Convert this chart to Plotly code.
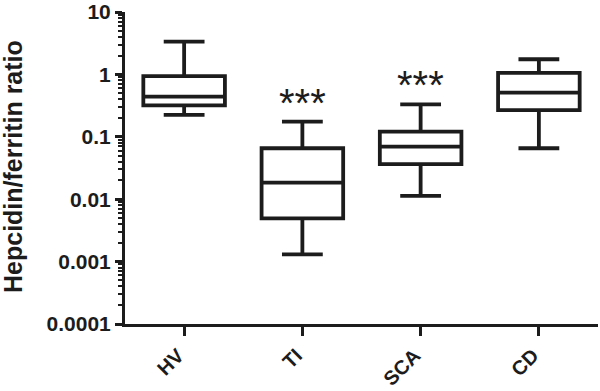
import math
import plotly.graph_objects as go

groups = ["HV", "TI", "SCA", "CD"]
lower_whisker = [0.224, 0.00131, 0.0113, 0.0655]
q1 = [0.32, 0.00494, 0.0366, 0.268]
median = [0.44, 0.0184, 0.0696, 0.509]
q3 = [0.94, 0.0655, 0.121, 1.06]
upper_whisker = [3.34, 0.175, 0.332, 1.75]
significance = ["", "***", "***", ""]

ytick_vals = [0.0001, 0.001, 0.01, 0.1, 1, 10]
ytick_text = ["0.0001", "0.001", "0.01", "0.1", "1", "10"]

INK = "#1c1c1c"
FONT = "Liberation Sans, Arial, sans-serif"

fig = go.Figure()
for i, g in enumerate(groups):
    fig.add_trace(go.Box(
        x=[g], name=g,
        q1=[q1[i]], median=[median[i]], q3=[q3[i]],
        lowerfence=[lower_whisker[i]], upperfence=[upper_whisker[i]],
        width=0.69, whiskerwidth=0.5,
        line=dict(color=INK, width=3.8),
        fillcolor="white", boxpoints=False, showlegend=False,
        hoverinfo="skip",
    ))

for i, g in enumerate(groups):
    if significance[i]:
        fig.add_annotation(
            x=g, y=math.log10(upper_whisker[i]), xref="x", yref="y",
            text=significance[i], showarrow=False,
            yanchor="middle", yshift=19,
            font=dict(family=FONT, size=40, color=INK),
        )

fig.add_annotation(
    x=0, y=0.5, xref="paper", yref="paper",
    text="<b>Hepcidin/ferritin ratio</b>", textangle=-90,
    showarrow=False, xanchor="center", yanchor="middle", xshift=-112, yshift=1,
    font=dict(family=FONT, size=25, color=INK),
)

fig.update_layout(
    width=600, height=391,
    margin=dict(l=125, r=2, t=12, b=67),
    paper_bgcolor="white", plot_bgcolor="white",
    font=dict(family=FONT, color=INK),
    xaxis=dict(
        type="category", range=[-0.5, 3.5], automargin=False,
        showline=True, linecolor=INK, linewidth=3,
        ticks="outside", ticklen=9, tickwidth=3, tickcolor=INK,
        tickangle=-45, showgrid=False, zeroline=False,
        ticklabelshift=-6,
        tickfont=dict(family=FONT, size=20, color=INK, weight="bold"),
    ),
    yaxis=dict(
        type="log", range=[-4, 1], automargin=False,
        tickvals=ytick_vals, ticktext=ytick_text,
        showline=True, linecolor=INK, linewidth=3,
        ticks="outside", ticklen=7, tickwidth=3, tickcolor=INK,
        minor=dict(ticks="outside", ticklen=4, tickwidth=2, tickcolor=INK, dtick="D1"),
        showgrid=False, zeroline=False,
        tickfont=dict(family=FONT, size=21, color=INK, weight="bold"),
    ),
)

# remove the browser's default 8px body margin so the figure fills the window
fig.write_html(
    "out.html",
    config={"displayModeBar": False},
    post_script="document.body.style.margin='0';document.body.style.overflow='hidden';",
)
